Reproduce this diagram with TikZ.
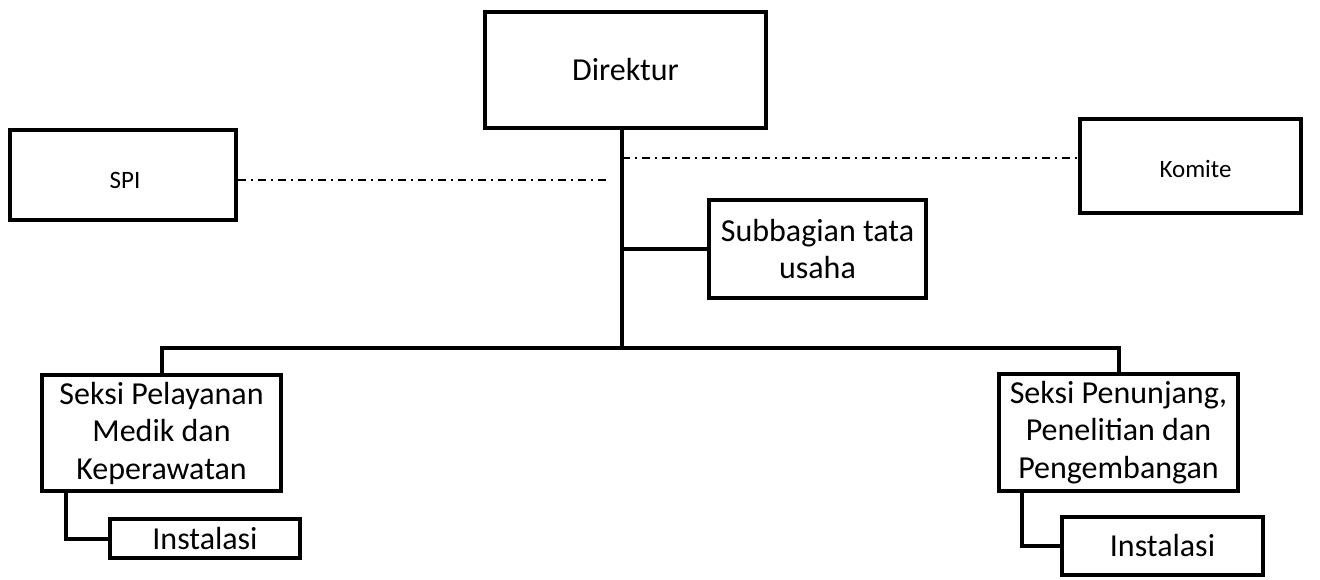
\documentclass[tikz,border=0pt]{standalone}
\usepackage{fontspec}
\setmainfont{Carlito}
\begin{document}
\begin{tikzpicture}[x=1pt,y=-1pt,
  box/.style={draw=black, line width=4pt, inner sep=0pt, align=center, font=\fontsize{32}{37.5}\selectfont},
  smallbox/.style={box, font=\fontsize{25}{29}\selectfont},
  conn/.style={draw=black, line width=4pt},
  dashdot/.style={draw=black, line width=1.5pt, dash pattern=on 8pt off 5pt on 2pt off 5pt}]
\useasboundingbox (0,0) rectangle (1320,580);
\node[box, minimum width=281pt, minimum height=116pt] (dir) at (625.5,70) {Direktur};
\node[smallbox, minimum width=226pt, minimum height=90pt] (spi) at (123,175) {\hspace*{4pt}\smash{\raisebox{-14pt}{SPI}}};
\node[smallbox, minimum width=221pt, minimum height=94pt] (kom) at (1190.5,166) {\hspace*{10pt}\smash{\raisebox{-12pt}{Komite}}};
\node[box, minimum width=217pt, minimum height=98pt] (sub) at (817.5,249) {Subbagian tata\\usaha};
\node[box, minimum width=239pt, minimum height=116pt] (spl) at (161.5,433) {Seksi Pelayanan\\Medik dan\\Keperawatan};
\node[box, minimum width=190pt, minimum height=39pt] (insl) at (205,538.5) {Instalasi};
\node[box, minimum width=239pt, minimum height=117pt] (spn) at (1118.5,432.5) {Seksi Penunjang,\\Penelitian dan\\Pengembangan};
\node[box, minimum width=201pt, minimum height=58pt] (insr) at (1162.5,546) {Instalasi};
\coordinate (bus) at (622,348);
\coordinate (spiend) at (606,180);
\coordinate (komstart) at (622,158);
% trunk
\draw[conn] (dir.south -| bus) -- (bus);
\draw[conn] (sub.west -| bus) -- (sub.west);
\draw[conn] (spl.north) |- (bus) -| (spn.north);
\draw[conn] (spl.south -| 66,0) |- (insl.west);
\draw[conn] (spn.south -| 1022,0) |- (insr.west);
% dashed
\draw[dashdot] (spi.east |- spiend) -- (spiend);
\draw[dashdot] (komstart) -- (komstart -| kom.west);
\end{tikzpicture}
\end{document}
